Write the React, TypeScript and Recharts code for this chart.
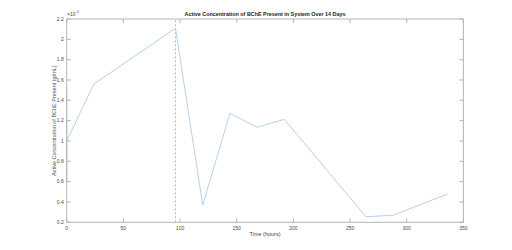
import React from 'react';
import {
  LineChart,
  Line,
  XAxis,
  YAxis,
  Label,
} from 'recharts';

// time in hours, concentration in units of 1e-3 g/mL
const hours = [0, 0, 0, 24, 96, 120, 144, 168, 192, 264, 288, 336];
const concentration = [1.53, 0.6, 1.0, 1.56, 2.108, 0.37, 1.272, 1.135, 1.213, 0.255, 0.269, 0.478];
const xTicks = [0, 50, 100, 150, 200, 250, 300, 350];
const yTicks = [0.2, 0.4, 0.6, 0.8, 1, 1.2, 1.4, 1.6, 1.8, 2, 2.2];
const yDomain = [0.2, 2.2];
const markerHour = 96;

const title = 'Active Concentration of BChE Present in System Over 14 Days';
const xLabel = 'Time (hours)';
const yLabel = 'Active Concentration of BChE Present (g/mL)';

const data = hours.map((t, i) => ({ t, c: concentration[i], top: 2.2 }));
// vertical marker spanning the whole y range
const markerData = yDomain.map((v) => ({ t: markerHour, m: v }));

const font = '"Liberation Sans", Arial, sans-serif';
const axisColor = '#b5b5b5';
const tickFont = { fontSize: 5, fill: '#4a4a4a', fontFamily: font };
const markerColor = '#f29a9a';

const fmt = (v: number) => String(Number(v.toFixed(1)));

export default function App() {
  return (
    <div style={{ position: 'absolute', left: 0, top: 0, width: 512, height: 250, background: '#fff' }}>
      <LineChart
        width={512}
        height={250}
        data={data}
        margin={{ top: 14, right: 43.6, bottom: 7.7, left: 0 }}
      >
        <XAxis
          xAxisId="bottom"
          dataKey="t"
          type="number"
          domain={[0, 350]}
          ticks={xTicks}
          height={20}
          stroke={axisColor}
          tickSize={-4}
          tickMargin={8}
          tick={tickFont}
        >
          <Label
            value={xLabel}
            position="center"
            dy={2}
            style={{ fontSize: 5.5, fill: '#444', fontFamily: font }}
          />
        </XAxis>
        <XAxis
          xAxisId="top"
          orientation="top"
          dataKey="t"
          type="number"
          domain={[0, 350]}
          ticks={xTicks}
          height={5}
          stroke={axisColor}
          tickSize={-4}
          tickFormatter={() => ''}
        />
        <YAxis
          yAxisId="left"
          type="number"
          domain={yDomain}
          ticks={yTicks}
          width={66.7}
          stroke={axisColor}
          tickSize={-4}
          tickMargin={7}
          tick={tickFont}
          tickFormatter={fmt}
        >
          <Label
            value={yLabel}
            position="center"
            angle={-90}
            dx={21}
            style={{ fontSize: 5.5, fill: '#555', fontFamily: font, textAnchor: 'middle' }}
          />
        </YAxis>
        <YAxis
          yAxisId="right"
          orientation="right"
          type="number"
          domain={yDomain}
          ticks={yTicks}
          width={5}
          stroke={axisColor}
          tickSize={-4}
          tickFormatter={() => ''}
        />
        <Line
          xAxisId="top"
          yAxisId="right"
          dataKey="top"
          stroke="none"
          dot={false}
          isAnimationActive={false}
        />
        <Line
          data={markerData}
          xAxisId="bottom"
          yAxisId="left"
          dataKey="m"
          type="linear"
          stroke={markerColor}
          strokeWidth={0.9}
          strokeDasharray="2 2"
          dot={false}
          isAnimationActive={false}
        />
        <Line
          xAxisId="bottom"
          yAxisId="left"
          dataKey="c"
          type="linear"
          stroke="#a7c7e8"
          strokeWidth={0.85}
          dot={false}
          isAnimationActive={false}
        />
      </LineChart>
      <div
        style={{
          position: 'absolute',
          left: 66.7,
          width: 396.7,
          top: 12,
          textAlign: 'center',
          fontSize: 5.4,
          fontWeight: 'bold',
          fontFamily: font,
          color: '#222',
          lineHeight: 1,
          whiteSpace: 'nowrap',
        }}
      >
        {title}
      </div>
      <div
        style={{
          position: 'absolute',
          left: 67,
          top: 11,
          fontSize: 5,
          fontFamily: font,
          color: '#4a4a4a',
          lineHeight: 1,
        }}
      >
        ×10<sup style={{ fontSize: 3.5 }}>-3</sup>
      </div>
    </div>
  );
}
